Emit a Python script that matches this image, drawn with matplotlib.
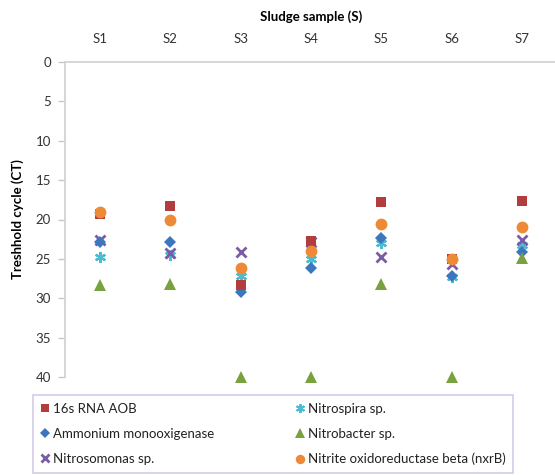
import matplotlib.pyplot as plt
from matplotlib.lines import Line2D

plt.rcParams['font.family'] = ['Lato', 'DejaVu Sans']

samples = ["S1", "S2", "S3", "S4", "S5", "S6", "S7"]

rna_16s_aob = [19.3, 18.3, 28.3, 22.7, 17.8, 25.0, 17.7]
ammonium_mono = [22.8, 22.8, 29.2, 26.2, 22.3, 27.2, 24.1]
nitrosomonas = [22.6, 24.3, 24.1, 22.8, 24.8, 25.7, 22.6]
nitrospira = [24.8, 24.5, 27.2, 25.0, 23.0, 27.3, 23.3]
nitrobacter = [28.3, 28.2, 40.0, 40.0, 28.2, 40.0, 24.9]
nxrb = [19.0, 20.1, 26.2, 24.0, 20.6, 25.0, 21.0]

# (label, values, marker, colour, size)
series = [
    ("16s RNA AOB", rna_16s_aob, "s", "#B33C3C", 7.5),
    ("Ammonium monooxigenase", ammonium_mono, "D", "#3B76BF", 6),
    ("Nitrosomonas sp.", nitrosomonas, "x", "#7B5BA8", 7.5),
    ("Nitrospira sp.", nitrospira, (6, 2, 0), "#4DBCD0", 8),
    ("Nitrobacter sp.", nitrobacter, "^", "#78A23F", 8.5),
    ("Nitrite oxidoreductase beta (nxrB)", nxrb, "o", "#EE8A35", 8.5),
]

fig = plt.figure(figsize=(5.55, 4.75), dpi=100)
ax = fig.add_axes([65 / 555, 98 / 475, 492 / 555, 315 / 475])

x = list(range(1, len(samples) + 1))
# draw order so overlaps look like the reference
draw_order = [3, 2, 1, 4, 0, 5]
for i in draw_order:
    label, vals, marker, color, size = series[i]
    if marker == "x":
        mew = 2
    elif isinstance(marker, tuple):
        mew = 1.6
    else:
        mew = 0
    ax.plot(x, vals, linestyle="", marker=marker, color=color,
            markersize=size, markeredgewidth=mew, clip_on=False, label=label)

ax.set_xlim(0.5, len(samples) + 0.5)
ax.set_ylim(40, 0)
ax.set_yticks(range(0, 41, 5))
ax.set_xticks(x)
ax.set_xticklabels(samples)
ax.xaxis.tick_top()
ax.xaxis.set_label_position("top")
ax.tick_params(axis="x", length=0, pad=12, labelsize=9.5, colors="#333333")
ax.tick_params(axis="y", length=5, width=1, color="#C8C8C8", labelsize=9.5,
               labelcolor="#333333", pad=5)

for s in ["right", "bottom"]:
    ax.spines[s].set_visible(False)
for s in ["left", "top"]:
    ax.spines[s].set_color("#D0D0D0")
    ax.spines[s].set_linewidth(1.2)

ax.set_xlabel("Sludge sample (S)", fontsize=9.5, fontweight="bold", labelpad=9)
ax.set_ylabel("Treshhold cycle (CT)", fontsize=9.5, fontweight="bold", labelpad=8)

legend_handles = []
for i in range(len(series)):
    label, vals, marker, color, size = series[i]
    mew = 2 if marker == "x" else (1.4 if isinstance(marker, tuple) else 0)
    legend_handles.append(Line2D([0], [0], linestyle="", marker=marker, color=color,
                                 markersize=size * 0.8, markeredgewidth=mew, label=label))

leg = fig.legend(handles=legend_handles, ncol=2, loc="upper left",
                 bbox_to_anchor=(33 / 555, 1 - 395 / 475), frameon=True,
                 fontsize=9.5, handlelength=0.6, handletextpad=0.3,
                 columnspacing=6.2, labelspacing=0.98, borderpad=0.6,
                 borderaxespad=0, fancybox=False)
leg.get_frame().set_edgecolor("#C9BFE3")
leg.get_frame().set_linewidth(1.2)
for t in leg.get_texts():
    t.set_color("#222222")

fig.savefig("out.png", dpi=100)
